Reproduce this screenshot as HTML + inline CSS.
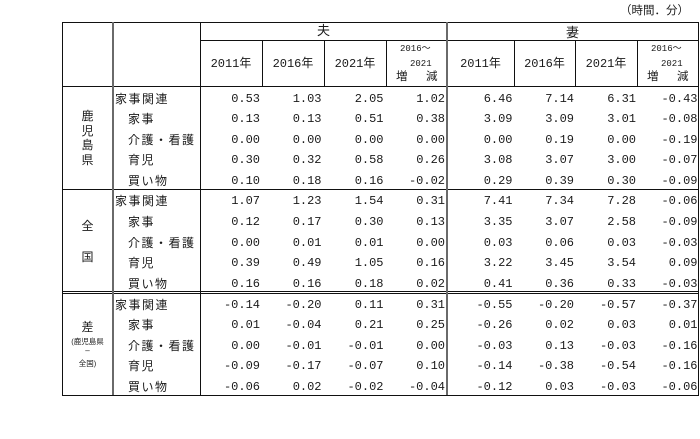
<!DOCTYPE html>
<html lang="ja">
<head>
<meta charset="utf-8">
<style>
  html,body{margin:0;padding:0;background:#fff;}
  #root{position:relative;width:700px;height:439px;overflow:hidden;background:#fff;
    font-family:"Liberation Sans","Noto Sans CJK JP",sans-serif;color:#1a1a1a;}
  .t{position:absolute;white-space:nowrap;height:20px;line-height:20px;font-size:12px;}
  .n{position:absolute;white-space:nowrap;height:20px;line-height:20px;font-size:12px;
     font-family:"Liberation Mono","Noto Sans CJK JP",monospace;text-align:right;width:60px;}
  .lab{letter-spacing:1.5px;}
  .c{text-align:center;}
  svg{position:absolute;left:0;top:0;}
</style>
</head>
<body>
<div id="root">
<svg width="700" height="439" shape-rendering="crispEdges">
  <g stroke="#111" stroke-width="1" fill="none">
    <rect x="62.5" y="22.5" width="636" height="373"/>
    <line x1="200" y1="40.5" x2="698" y2="40.5"/>
    <line x1="62" y1="86.5" x2="698" y2="86.5"/>
    <line x1="62" y1="189.5" x2="698" y2="189.5"/>
    <line x1="62" y1="291.5" x2="698" y2="291.5"/>
    <line x1="62" y1="293.5" x2="698" y2="293.5"/>
    <line x1="200.5" y1="22" x2="200.5" y2="395"/>
    <line x1="262.5" y1="40" x2="262.5" y2="86"/>
    <line x1="324.5" y1="40" x2="324.5" y2="86"/>
    <line x1="386.5" y1="40" x2="386.5" y2="86"/>
    <line x1="514.5" y1="40" x2="514.5" y2="86"/>
    <line x1="575.5" y1="40" x2="575.5" y2="86"/>
    <line x1="637.5" y1="40" x2="637.5" y2="86"/>
  </g>
  <g stroke="#6a6a6a" stroke-width="2">
    <line x1="113" y1="22" x2="113" y2="395"/>
    <line x1="447" y1="22" x2="447" y2="395"/>
  </g>
</svg>

<!-- unit -->
<div class="t" style="left:620px;top:1px;font-size:11.5px;">（時間．分）</div>

<!-- header -->
<div class="t c" style="left:200px;width:247px;top:21px;font-size:13px;">夫</div>
<div class="t c" style="left:447px;width:251px;top:23px;font-size:13px;">妻</div>

<div class="t c" style="left:200px;width:62px;top:53px;"><span style="font-family:'Liberation Mono',monospace;">2011</span>年</div>
<div class="t c" style="left:262px;width:62px;top:53px;"><span style="font-family:'Liberation Mono',monospace;">2016</span>年</div>
<div class="t c" style="left:324px;width:62px;top:53px;"><span style="font-family:'Liberation Mono',monospace;">2021</span>年</div>
<div class="t c" style="left:447px;width:67px;top:53px;"><span style="font-family:'Liberation Mono',monospace;">2011</span>年</div>
<div class="t c" style="left:514px;width:61px;top:53px;"><span style="font-family:'Liberation Mono',monospace;">2016</span>年</div>
<div class="t c" style="left:575px;width:62px;top:53px;"><span style="font-family:'Liberation Mono',monospace;">2021</span>年</div>

<!-- 増減 header 夫 -->
<div class="t" style="left:400px;top:38px;font-size:9px;"><span style="font-family:'Liberation Mono',monospace;">2016</span>～</div>
<div class="t" style="left:410px;top:54px;font-size:9px;font-family:'Liberation Mono',monospace;">2021</div>
<div class="t" style="left:396px;top:67px;font-size:11.5px;">増</div>
<div class="t" style="left:426px;top:67px;font-size:11.5px;">減</div>
<!-- 増減 header 妻 -->
<div class="t" style="left:651px;top:38px;font-size:9px;"><span style="font-family:'Liberation Mono',monospace;">2016</span>～</div>
<div class="t" style="left:661px;top:54px;font-size:9px;font-family:'Liberation Mono',monospace;">2021</div>
<div class="t" style="left:647px;top:67px;font-size:11.5px;">増</div>
<div class="t" style="left:677px;top:67px;font-size:11.5px;">減</div>

<!-- section labels -->
<div class="t c" style="left:62px;width:51px;top:106px;">鹿</div>
<div class="t c" style="left:62px;width:51px;top:121px;">児</div>
<div class="t c" style="left:62px;width:51px;top:135px;">島</div>
<div class="t c" style="left:62px;width:51px;top:150px;">県</div>

<div class="t c" style="left:62px;width:51px;top:216px;">全</div>
<div class="t c" style="left:62px;width:51px;top:247px;">国</div>

<div class="t c" style="left:62px;width:51px;top:317px;">差</div>
<div class="t c" style="left:62px;width:51px;top:332px;font-size:7.5px;">(鹿児島県</div>
<div class="t c" style="left:62px;width:51px;top:341px;font-size:8px;">–</div>
<div class="t c" style="left:62px;width:51px;top:354px;font-size:7.5px;">全国)</div>

<!-- row labels -->
<div class="t lab" style="left:115px;top:89px;">家事関連</div>
<div class="t lab" style="left:128px;top:109px;">家事</div>
<div class="t lab" style="left:128px;top:130px;">介護・看護</div>
<div class="t lab" style="left:128px;top:150px;">育児</div>
<div class="t lab" style="left:128px;top:171px;">買い物</div>

<div class="t lab" style="left:115px;top:191px;">家事関連</div>
<div class="t lab" style="left:128px;top:212px;">家事</div>
<div class="t lab" style="left:128px;top:233px;">介護・看護</div>
<div class="t lab" style="left:128px;top:253px;">育児</div>
<div class="t lab" style="left:128px;top:274px;">買い物</div>

<div class="t lab" style="left:115px;top:295px;">家事関連</div>
<div class="t lab" style="left:128px;top:315px;">家事</div>
<div class="t lab" style="left:128px;top:336px;">介護・看護</div>
<div class="t lab" style="left:128px;top:356px;">育児</div>
<div class="t lab" style="left:128px;top:377px;">買い物</div>

<!-- numbers: columns right edges 260,321.5,383.5,445,512.5,574,636,697.5 -->
<!-- S1 row1 top 89 -->
<div class="n" style="left:200px;top:89px;">0.53</div>
<div class="n" style="left:261.5px;top:89px;">1.03</div>
<div class="n" style="left:323.5px;top:89px;">2.05</div>
<div class="n" style="left:385px;top:89px;">1.02</div>
<div class="n" style="left:452.5px;top:89px;">6.46</div>
<div class="n" style="left:514px;top:89px;">7.14</div>
<div class="n" style="left:576px;top:89px;">6.31</div>
<div class="n" style="left:637.5px;top:89px;">-0.43</div>

<div class="n" style="left:200px;top:109px;">0.13</div>
<div class="n" style="left:261.5px;top:109px;">0.13</div>
<div class="n" style="left:323.5px;top:109px;">0.51</div>
<div class="n" style="left:385px;top:109px;">0.38</div>
<div class="n" style="left:452.5px;top:109px;">3.09</div>
<div class="n" style="left:514px;top:109px;">3.09</div>
<div class="n" style="left:576px;top:109px;">3.01</div>
<div class="n" style="left:637.5px;top:109px;">-0.08</div>

<div class="n" style="left:200px;top:130px;">0.00</div>
<div class="n" style="left:261.5px;top:130px;">0.00</div>
<div class="n" style="left:323.5px;top:130px;">0.00</div>
<div class="n" style="left:385px;top:130px;">0.00</div>
<div class="n" style="left:452.5px;top:130px;">0.00</div>
<div class="n" style="left:514px;top:130px;">0.19</div>
<div class="n" style="left:576px;top:130px;">0.00</div>
<div class="n" style="left:637.5px;top:130px;">-0.19</div>

<div class="n" style="left:200px;top:150px;">0.30</div>
<div class="n" style="left:261.5px;top:150px;">0.32</div>
<div class="n" style="left:323.5px;top:150px;">0.58</div>
<div class="n" style="left:385px;top:150px;">0.26</div>
<div class="n" style="left:452.5px;top:150px;">3.08</div>
<div class="n" style="left:514px;top:150px;">3.07</div>
<div class="n" style="left:576px;top:150px;">3.00</div>
<div class="n" style="left:637.5px;top:150px;">-0.07</div>

<div class="n" style="left:200px;top:171px;">0.10</div>
<div class="n" style="left:261.5px;top:171px;">0.18</div>
<div class="n" style="left:323.5px;top:171px;">0.16</div>
<div class="n" style="left:385px;top:171px;">-0.02</div>
<div class="n" style="left:452.5px;top:171px;">0.29</div>
<div class="n" style="left:514px;top:171px;">0.39</div>
<div class="n" style="left:576px;top:171px;">0.30</div>
<div class="n" style="left:637.5px;top:171px;">-0.09</div>

<!-- S2 -->
<div class="n" style="left:200px;top:191px;">1.07</div>
<div class="n" style="left:261.5px;top:191px;">1.23</div>
<div class="n" style="left:323.5px;top:191px;">1.54</div>
<div class="n" style="left:385px;top:191px;">0.31</div>
<div class="n" style="left:452.5px;top:191px;">7.41</div>
<div class="n" style="left:514px;top:191px;">7.34</div>
<div class="n" style="left:576px;top:191px;">7.28</div>
<div class="n" style="left:637.5px;top:191px;">-0.06</div>

<div class="n" style="left:200px;top:212px;">0.12</div>
<div class="n" style="left:261.5px;top:212px;">0.17</div>
<div class="n" style="left:323.5px;top:212px;">0.30</div>
<div class="n" style="left:385px;top:212px;">0.13</div>
<div class="n" style="left:452.5px;top:212px;">3.35</div>
<div class="n" style="left:514px;top:212px;">3.07</div>
<div class="n" style="left:576px;top:212px;">2.58</div>
<div class="n" style="left:637.5px;top:212px;">-0.09</div>

<div class="n" style="left:200px;top:233px;">0.00</div>
<div class="n" style="left:261.5px;top:233px;">0.01</div>
<div class="n" style="left:323.5px;top:233px;">0.01</div>
<div class="n" style="left:385px;top:233px;">0.00</div>
<div class="n" style="left:452.5px;top:233px;">0.03</div>
<div class="n" style="left:514px;top:233px;">0.06</div>
<div class="n" style="left:576px;top:233px;">0.03</div>
<div class="n" style="left:637.5px;top:233px;">-0.03</div>

<div class="n" style="left:200px;top:253px;">0.39</div>
<div class="n" style="left:261.5px;top:253px;">0.49</div>
<div class="n" style="left:323.5px;top:253px;">1.05</div>
<div class="n" style="left:385px;top:253px;">0.16</div>
<div class="n" style="left:452.5px;top:253px;">3.22</div>
<div class="n" style="left:514px;top:253px;">3.45</div>
<div class="n" style="left:576px;top:253px;">3.54</div>
<div class="n" style="left:637.5px;top:253px;">0.09</div>

<div class="n" style="left:200px;top:274px;">0.16</div>
<div class="n" style="left:261.5px;top:274px;">0.16</div>
<div class="n" style="left:323.5px;top:274px;">0.18</div>
<div class="n" style="left:385px;top:274px;">0.02</div>
<div class="n" style="left:452.5px;top:274px;">0.41</div>
<div class="n" style="left:514px;top:274px;">0.36</div>
<div class="n" style="left:576px;top:274px;">0.33</div>
<div class="n" style="left:637.5px;top:274px;">-0.03</div>

<!-- S3 -->
<div class="n" style="left:200px;top:295px;">-0.14</div>
<div class="n" style="left:261.5px;top:295px;">-0.20</div>
<div class="n" style="left:323.5px;top:295px;">0.11</div>
<div class="n" style="left:385px;top:295px;">0.31</div>
<div class="n" style="left:452.5px;top:295px;">-0.55</div>
<div class="n" style="left:514px;top:295px;">-0.20</div>
<div class="n" style="left:576px;top:295px;">-0.57</div>
<div class="n" style="left:637.5px;top:295px;">-0.37</div>

<div class="n" style="left:200px;top:315px;">0.01</div>
<div class="n" style="left:261.5px;top:315px;">-0.04</div>
<div class="n" style="left:323.5px;top:315px;">0.21</div>
<div class="n" style="left:385px;top:315px;">0.25</div>
<div class="n" style="left:452.5px;top:315px;">-0.26</div>
<div class="n" style="left:514px;top:315px;">0.02</div>
<div class="n" style="left:576px;top:315px;">0.03</div>
<div class="n" style="left:637.5px;top:315px;">0.01</div>

<div class="n" style="left:200px;top:336px;">0.00</div>
<div class="n" style="left:261.5px;top:336px;">-0.01</div>
<div class="n" style="left:323.5px;top:336px;">-0.01</div>
<div class="n" style="left:385px;top:336px;">0.00</div>
<div class="n" style="left:452.5px;top:336px;">-0.03</div>
<div class="n" style="left:514px;top:336px;">0.13</div>
<div class="n" style="left:576px;top:336px;">-0.03</div>
<div class="n" style="left:637.5px;top:336px;">-0.16</div>

<div class="n" style="left:200px;top:356px;">-0.09</div>
<div class="n" style="left:261.5px;top:356px;">-0.17</div>
<div class="n" style="left:323.5px;top:356px;">-0.07</div>
<div class="n" style="left:385px;top:356px;">0.10</div>
<div class="n" style="left:452.5px;top:356px;">-0.14</div>
<div class="n" style="left:514px;top:356px;">-0.38</div>
<div class="n" style="left:576px;top:356px;">-0.54</div>
<div class="n" style="left:637.5px;top:356px;">-0.16</div>

<div class="n" style="left:200px;top:377px;">-0.06</div>
<div class="n" style="left:261.5px;top:377px;">0.02</div>
<div class="n" style="left:323.5px;top:377px;">-0.02</div>
<div class="n" style="left:385px;top:377px;">-0.04</div>
<div class="n" style="left:452.5px;top:377px;">-0.12</div>
<div class="n" style="left:514px;top:377px;">0.03</div>
<div class="n" style="left:576px;top:377px;">-0.03</div>
<div class="n" style="left:637.5px;top:377px;">-0.06</div>

</div>
</body>
</html>
